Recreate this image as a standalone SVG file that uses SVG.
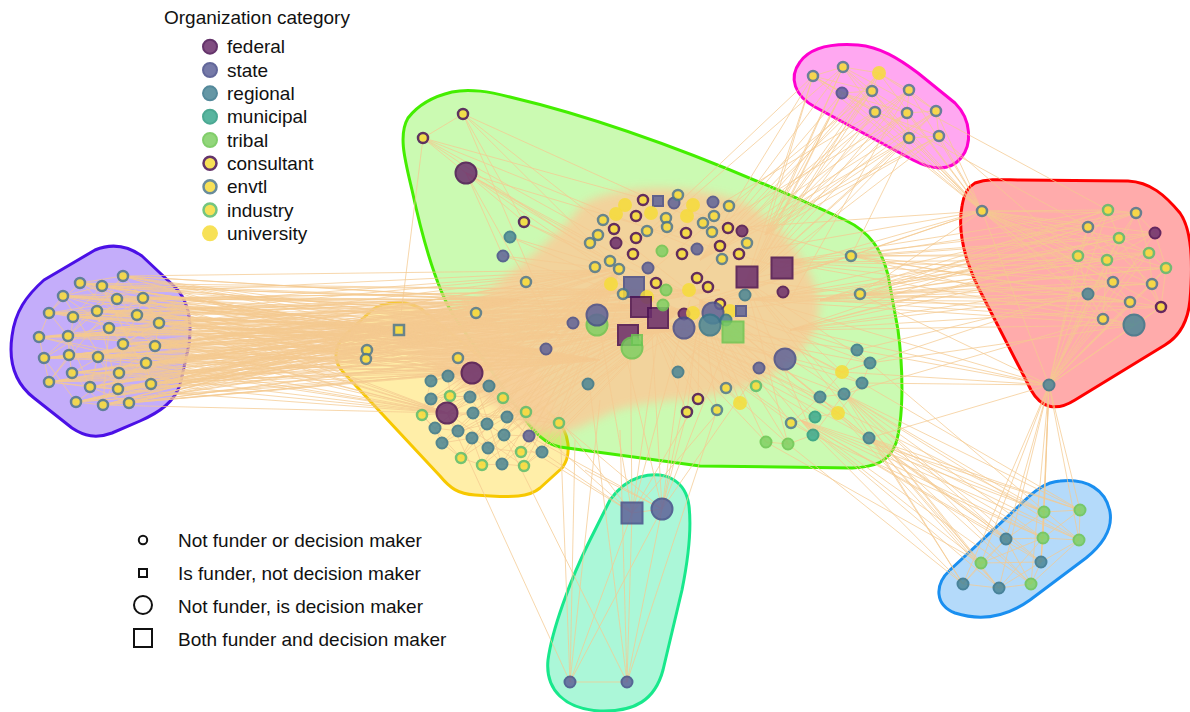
<svg xmlns="http://www.w3.org/2000/svg" width="1190" height="712" viewBox="0 0 1190 712">
<style>
text{font-family:"Liberation Sans",Arial,sans-serif;font-size:19px;fill:#111}
.hull{stroke-width:3;stroke-linejoin:round}
.e{fill:none;stroke:#f4c990;stroke-width:.75}
.core{fill:#f7cf9a;opacity:.9}
.n{opacity:.85;stroke-width:2}
.fed{fill:#6a2e6c;stroke:#4a1152}
.sta{fill:#5f6399;stroke:#474d89}
.reg{fill:#4b8696;stroke:#37758a}
.mun{fill:#3ca98f;stroke:#2c9a80}
.tri{fill:#80d064;stroke:#6cc552}
.con,.env,.ind,.uni{fill:#f6dc3a}
.con{stroke:#4a1152;stroke-width:2.5}
.env{stroke:#50788a;stroke-width:2.5}
.ind{stroke:#5cbc6a;stroke-width:2.5}
.uni{stroke:#f6dc3a}
.key{fill:none;stroke:#111;stroke-width:2}
</style>
<defs>
<filter id="soft" x="-20%" y="-20%" width="140%" height="140%"><feGaussianBlur stdDeviation="5"/></filter>
</defs>

<!-- community hulls -->
<g id="hulls">
<path class="hull" fill="#8a5cf5" fill-opacity=".5" stroke="#4b10e6" d="M95,250 C112,243 128,246 142,256 L176,288 C189,302 192,322 189,345 L180,385 C174,402 160,412 140,421 L112,433 C96,439 84,436 72,428 L34,398 C16,384 8,364 12,336 C15,312 26,296 44,280 Z"/>
<path class="hull" fill="#ffd11a" fill-opacity=".38" stroke="#f7c800" d="M372,310 C385,301 405,300 420,308 L555,418 C570,432 572,455 562,468 L540,488 C528,498 510,497 490,496 L475,495 C458,494 450,488 440,476 L343,372 C332,360 335,345 345,335 Z"/>
<path class="hull" fill="#52f000" fill-opacity=".3" stroke="#44ee00" d="M452,92 C470,88 490,92 510,97 Q650,130 845,220 C870,232 882,250 888,275 L898,330 C904,375 903,420 896,443 C889,462 875,467 852,468 L700,466 L560,447 C545,444 535,432 527,422 L455,318 C440,295 425,250 412,190 C405,160 398,135 408,118 C418,105 435,96 452,92 Z"/>
<path class="hull" fill="#ff1ad9" fill-opacity=".38" stroke="#ff00d0" d="M800,62 C810,48 830,43 858,45 C880,47 898,58 918,73 L955,103 C972,120 972,145 961,158 C950,171 934,171 913,160 L815,107 C795,96 788,78 800,62 Z"/>
<path class="hull" fill="#ff0000" fill-opacity=".33" stroke="#ff0000" d="M975,183 C990,178 1005,180 1020,180 L1128,181 C1150,182 1165,195 1180,213 C1192,230 1193,265 1190,300 C1188,322 1180,336 1165,345 L1075,400 C1056,412 1041,408 1031,390 L977,285 C963,255 958,228 962,206 C964,193 968,187 975,183 Z"/>
<path class="hull" fill="#1a90f0" fill-opacity=".33" stroke="#1a8ff0" d="M1060,481 C1087,478 1106,490 1110,512 C1113,530 1102,545 1086,558 L1030,600 C1005,618 980,621 955,613 C935,605 934,585 950,570 L1020,505 C1035,490 1046,482 1060,481 Z"/>
<path class="hull" fill="#00e88a" fill-opacity=".33" stroke="#18e88c" d="M640,477 C666,470 686,481 689,506 C692,532 688,560 682,590 L663,670 C655,700 635,712 600,711 C565,709 545,690 548,660 C552,630 570,580 590,540 L610,500 C620,486 630,480 640,477 Z"/>
</g>

<!-- collaboration ties -->
<g id="connectors">
<!-- the core ties are so numerous they merge into one tone -->
<path class="core" filter="url(#soft)" d="M468,305 C500,282 555,240 582,205 C612,183 700,183 745,203 C780,222 808,260 818,295 C825,335 798,365 752,385 C705,402 655,398 618,410 C585,423 565,440 540,432 C508,418 478,360 468,305 Z"/>
<path class="core" opacity=".55" filter="url(#soft)" d="M390,318 C420,310 460,305 480,312 L530,360 C545,380 560,410 548,425 C530,430 500,410 470,390 C440,372 410,352 390,340 Z"/>
<path class="e" d="M610,270L123,276L560,335M470,330L123,276L700,310M630,290L80,283L540,350M440,340L80,283L680,330M650,305L102,286L580,320M500,320L102,286L720,290M610,270L63,296L560,335M470,330L63,296L700,310M630,290L117,299L540,350M440,340L117,299L680,330M650,305L143,298L580,320M500,320L143,298L720,290M610,270L49,313L560,335M470,330L49,313L700,310M630,290L73,317L540,350M440,340L73,317L680,330M650,305L97,311L580,320M500,320L97,311L720,290M610,270L137,315L560,335M470,330L137,315L700,310M630,290L159,323L540,350M440,340L159,323L680,330M650,305L39,337L580,320M500,320L39,337L720,290M610,270L68,336L560,335M470,330L68,336L700,310M630,290L109,328L540,350M440,340L109,328L680,330M650,305L123,344L580,320M500,320L123,344L720,290M610,270L155,346L560,335M470,330L155,346L700,310M630,290L44,358L540,350M440,340L44,358L680,330M650,305L69,355L580,320M500,320L69,355L720,290M610,270L98,357L560,335M470,330L98,357L700,310M630,290L146,363L540,350M440,340L146,363L680,330M650,305L72,373L580,320M500,320L72,373L720,290M610,270L119,373L560,335M470,330L119,373L700,310M630,290L49,382L540,350M440,340L49,382L680,330M650,305L90,387L580,320M500,320L90,387L720,290M610,270L118,389L560,335M470,330L118,389L700,310M630,290L151,384L540,350M440,340L151,384L680,330M650,305L76,402L580,320M500,320L76,402L720,290M610,270L103,405L560,335M470,330L103,405L700,310M630,290L129,403L540,350M440,340L129,403L680,330"/>
<path class="e" d="M520,300L123,276L600,360M520,300L80,283L600,360M520,300L102,286L600,360M520,300L63,296L600,360M520,300L117,299L600,360M520,300L143,298L600,360M520,300L49,313L600,360M520,300L73,317L600,360M520,300L97,311L600,360M520,300L137,315L600,360M520,300L159,323L600,360M520,300L39,337L600,360M520,300L68,336L600,360M520,300L109,328L600,360M520,300L123,344L600,360M520,300L155,346L600,360M520,300L44,358L600,360M520,300L69,355L600,360M520,300L98,357L600,360M520,300L146,363L600,360M520,300L72,373L600,360M520,300L119,373L600,360M520,300L49,382L600,360M520,300L90,387L600,360M520,300L118,389L600,360M520,300L151,384L600,360M520,300L76,402L600,360M520,300L103,405L600,360M520,300L129,403L600,360M367,350L123,276M367,350L63,296M367,350L109,328M367,350L98,357M367,350L151,384M366,359L80,283M366,359L137,315M366,359L69,355M366,359L118,389M366,359L76,402"/>
<path class="e" d="M472,373L123,276L399,330M447,413L80,283L399,330M472,373L102,286L399,330M447,413L63,296L399,330M472,373L117,299L399,330M447,413L143,298L399,330M472,373L49,313L399,330M447,413L73,317L399,330M472,373L97,311L399,330M447,413L137,315L399,330M472,373L159,323L399,330M447,413L39,337L399,330M472,373L68,336L399,330M447,413L109,328L399,330M472,373L123,344L399,330M447,413L155,346L399,330M472,373L44,358L399,330M447,413L69,355L399,330M472,373L98,357L399,330M447,413L146,363L399,330M472,373L72,373L399,330M447,413L119,373L399,330M472,373L49,382L399,330M447,413L90,387L399,330M472,373L118,389L399,330M447,413L151,384L399,330M472,373L76,402L399,330M447,413L103,405L399,330M472,373L129,403L399,330"/>
<path class="e" d="M123,276L80,283L102,286L63,296L117,299L143,298L49,313L73,317L97,311L137,315L159,323L39,337L68,336L109,328L123,344L155,346L44,358L69,355L98,357L146,363L72,373L119,373L49,382L90,387L118,389L151,384L76,402L103,405L129,403M123,276L97,311L68,336L44,358L76,402M80,283L117,299L137,315L123,344L98,357L90,387L129,403M63,296L109,328L146,363L151,384M143,298L159,323L155,346L118,389L49,382L39,337L49,313L80,283M102,286L73,317L69,355L72,373L103,405M123,276L143,298L137,315M159,323L123,344L119,373L103,405M44,358L98,357L118,389M63,296L49,313L68,336L69,355L49,382M123,276L68,336L90,387M80,283L155,346L76,402M143,298L44,358M159,323L72,373M102,286L151,384M39,337L146,363M63,296L129,403M117,299L49,382M97,311L118,389M109,328L103,405"/>
<path class="e" d="M700,260L813,76L745,285M813,76L765,235M813,76L982,211M700,260L843,67L745,285M843,67L765,235M843,67L982,211M700,260L879,73L745,285M879,73L765,235M879,73L982,211M700,260L842,93L745,285M842,93L765,235M842,93L982,211M700,260L872,91L745,285M872,91L765,235M872,91L982,211M700,260L909,90L745,285M909,90L765,235M909,90L982,211M700,260L875,112L745,285M875,112L765,235M875,112L982,211M700,260L907,113L745,285M907,113L765,235M907,113L982,211M700,260L936,111L745,285M936,111L765,235M936,111L982,211M700,260L909,138L745,285M909,138L765,235M909,138L982,211M700,260L939,136L745,285M939,136L765,235M939,136L982,211M813,76L650,230M843,67L620,260M879,73L680,300M842,93L730,320M872,91L640,280M909,90L790,300M875,112L660,240M907,113L710,230M936,111L782,268M909,138L851,256M939,136L1078,256M813,76L1088,227M843,67L1108,210"/>
<path class="e" d="M813,76L843,67L879,73L872,91L842,93L813,76L875,112L909,90L936,111L939,136L909,138L875,112L842,93M843,67L872,91L907,113L936,111M879,73L909,90L907,113L909,138M813,76L872,91L909,138M843,67L875,112L939,136M842,93L907,113M879,73L936,111"/>
<path class="e" d="M780,262L1108,210L820,300M1108,210L860,295M1108,210L982,211M1108,210L1049,385M750,300L1136,213L790,330M1136,213L851,256M1136,213L982,211M1136,213L1049,385M780,262L1088,227L820,300M1088,227L860,295M1088,227L982,211M1088,227L1049,385M750,300L1155,233L790,330M1155,233L851,256M1155,233L982,211M1155,233L1049,385M780,262L1119,238L820,300M1119,238L860,295M1119,238L982,211M1119,238L1049,385M750,300L1078,256L790,330M1078,256L851,256M1078,256L982,211M1078,256L1049,385M780,262L1107,260L820,300M1107,260L860,295M1107,260L982,211M1107,260L1049,385M750,300L1149,253L790,330M1149,253L851,256M1149,253L982,211M1149,253L1049,385M780,262L1166,268L820,300M1166,268L860,295M1166,268L982,211M1166,268L1049,385M750,300L1113,282L790,330M1113,282L851,256M1113,282L982,211M1113,282L1049,385M780,262L1152,284L820,300M1152,284L860,295M1152,284L982,211M1152,284L1049,385M750,300L1088,294L790,330M1088,294L851,256M1088,294L982,211M1088,294L1049,385M780,262L1130,302L820,300M1130,302L860,295M1130,302L982,211M1130,302L1049,385M750,300L1161,307L790,330M1161,307L851,256M1161,307L982,211M1161,307L1049,385M780,262L1103,319L820,300M1103,319L860,295M1103,319L982,211M1103,319L1049,385M750,300L1134,325L790,330M1134,325L851,256M1134,325L982,211M1134,325L1049,385M760,250L982,211L720,300M982,211L851,256M700,230L982,211L782,268M982,211L860,294M982,211L1049,385M1049,385L800,330M1049,385L860,294M1049,385L842,372M1049,385L869,438M1049,385L760,300M1049,385L857,350"/>
<path class="e" d="M1108,210L1136,213L1155,233L1166,268L1161,307L1134,325L1103,319L1088,294L1078,256L1088,227L1108,210L1119,238L1149,253L1152,284L1130,302L1113,282L1107,260L1088,227M1136,213L1119,238L1107,260L1078,256M1149,253L1166,268L1152,284L1161,307M1113,282L1088,294L1130,302L1134,325M1108,210L1078,256L1113,282L1149,253L1136,213M1155,233L1107,260L1103,319M1088,227L1152,284M1119,238L1161,307"/>
<path class="e" d="M870,438L1044,512L844,394M1044,512L800,420M1044,512L1049,385M870,438L1080,510L844,394M1080,510L800,420M1080,510L1049,385M870,438L1006,539L844,394M1006,539L800,420M1006,539L1049,385M870,438L1043,538L844,394M1043,538L800,420M1043,538L1049,385M870,438L1079,540L844,394M1079,540L800,420M1079,540L1049,385M870,438L981,563L844,394M981,563L800,420M981,563L1049,385M870,438L1041,562L844,394M1041,562L800,420M1041,562L1049,385M870,438L963,584L844,394M963,584L800,420M963,584L1049,385M870,438L999,588L844,394M999,588L800,420M999,588L1049,385M870,438L1031,584L844,394M1031,584L800,420M1031,584L1049,385M1044,512L760,370M1006,539L720,330M963,584L788,444M981,563L766,442M1043,538L813,435M999,588L838,413M1080,510L862,383M1079,540L870,363"/>
<path class="e" d="M1044,512L1080,510L1079,540L1041,562L1031,584L999,588L963,584L981,563L1006,539L1044,512L1043,538L1079,540M1006,539L1043,538L1041,562L999,588M981,563L1043,538L1080,510M963,584L1006,539L1031,584L1079,540M981,563L1041,562L1044,512M999,588L1043,538"/>
<path class="e" d="M600,330L632,513L630,300M632,513L660,320M690,300L632,513L560,420M632,513L720,410M632,513L662,509M650,300L662,509L700,320M662,509L740,310M620,330L662,509L680,372M662,509L760,368M662,509L585,470M575,440L570,682L632,513M570,682L662,509M570,682L627,682L632,513M627,682L662,509M560,423L570,682M627,682L620,430M627,682L590,390M600,400L570,682M632,513L530,450M662,509L560,423M472,373L632,513M447,413L570,682M504,435L627,682M529,436L662,509M542,452L632,513M687,412L662,509M698,399L632,513M717,410L627,682"/>
<path class="e" d="M620,270L399,330L680,310M620,270L367,350L680,310M620,270L366,359L680,310M620,270L458,358L680,310M620,270L472,373L680,310M620,270L431,381L680,310M620,270L448,376L680,310M620,270L489,386L680,310M620,270L450,396L680,310M620,270L470,397L680,310M620,270L503,398L680,310M620,270L431,399L680,310M620,270L422,415L680,310M620,270L447,413L680,310M620,270L473,413L680,310M620,270L507,417L680,310M620,270L526,412L680,310M620,270L559,423L680,310M620,270L435,428L680,310M620,270L458,431L680,310M620,270L487,424L680,310M620,270L472,438L680,310M620,270L504,435L680,310M620,270L529,436L680,310M620,270L442,443L680,310M620,270L488,448L680,310M620,270L521,452L680,310M620,270L542,452L680,310M620,270L461,458L680,310M620,270L482,465L680,310M620,270L502,464L680,310M620,270L524,466L680,310M367,350L560,335M366,359L600,330M399,330L470,330"/>
<path class="e" d="M472,373L431,381L448,376L489,386L470,397L450,396L431,399L422,415L447,413L473,413L507,417L526,412L559,423L529,436L504,435L487,424L458,431L435,428L442,443L472,438L488,448L521,452L542,452L524,466L502,464L482,465L461,458L442,443M472,373L503,398L526,412M447,413L458,431L472,438M431,381L422,415L435,428M448,376L450,396L470,397L487,424L504,435L521,452M473,413L488,448L502,464M507,417L529,436L542,452M461,458L472,438L482,465M472,373L422,415L461,458M472,373L542,452M447,413L524,466M447,413L559,423M472,373L502,464M447,413L489,386"/>
<path class="e" d="M620,270L463,114L700,300M463,114L560,340M463,114L423,138L466,173M620,270L423,138L700,250M423,138L399,330M423,138L598,235M610,260L466,173L650,300M466,173L560,340M700,300L466,173L590,243M466,173L524,222M466,173L503,256M463,114L524,222M620,270L524,222L700,300M620,270L510,237L680,310M620,270L503,256L680,310M620,270L526,282L680,310M600,300L546,349L690,310M620,300L588,384L700,320M640,300L678,372L720,320M423,138L851,256M463,114L747,243M466,173L782,268M476,313L620,270M476,313L700,310M476,313L399,330"/>
<path class="e" d="M700,300L759,368L650,320M700,300L726,388L650,320M700,300L756,386L650,320M700,300L698,399L650,320M700,300L687,412L650,320M700,300L717,410L650,320M700,300L740,403L650,320M700,300L842,372L650,320M700,300L857,350L650,320M700,300L870,363L650,320M700,300L862,383L650,320M700,300L844,394L650,320M700,300L820,397L650,320M700,300L838,413L650,320M700,300L815,417L650,320M700,300L791,423L650,320M700,300L813,435L650,320M700,300L766,442L650,320M700,300L788,444L650,320M700,300L869,438L650,320M700,300L851,256L650,320M700,300L860,294L650,320M700,300L785,359L650,320M745,280L842,372M745,280L870,363M745,280L844,394M745,280L813,435M745,280L869,438M745,280L788,444M745,280L851,256M745,280L860,294M857,350L870,363L862,383L844,394L820,397L838,413L815,417L791,423L813,435L788,444L766,442M842,372L870,363M869,438L838,413L862,383M844,394L813,435M857,350L842,372L820,397L791,423M857,350L1088,294M870,363L1134,325M862,383L1049,385M844,394L1103,319M842,372L1113,282"/>
</g>

<!-- legend: organization category -->
<g id="legend-category">
<text x="164" y="24">Organization category</text>
<circle class="n fed" cx="210" cy="46.7" r="7"/><text x="227" y="53.4">federal</text>
<circle class="n sta" cx="210" cy="70" r="7"/><text x="227" y="76.7">state</text>
<circle class="n reg" cx="210" cy="93.3" r="7"/><text x="227" y="100">regional</text>
<circle class="n mun" cx="210" cy="116.7" r="7"/><text x="227" y="123.4">municipal</text>
<circle class="n tri" cx="210" cy="140" r="7"/><text x="227" y="146.7">tribal</text>
<circle class="n con" cx="210" cy="163.3" r="6.5"/><text x="227" y="170">consultant</text>
<circle class="n env" cx="210" cy="186.7" r="6.5"/><text x="227" y="193.4">envtl</text>
<circle class="n ind" cx="210" cy="210" r="6.5"/><text x="227" y="216.7">industry</text>
<circle class="n uni" cx="210" cy="233.3" r="7"/><text x="227" y="240">university</text>
</g>

<!-- legend: role shapes -->
<g id="legend-role">
<circle class="key" cx="143" cy="540" r="4.2"/><text x="178" y="547">Not funder or decision maker</text>
<rect class="key" x="139" y="569" width="8" height="8"/><text x="178" y="580">Is funder, not decision maker</text>
<circle class="key" cx="143" cy="605" r="9"/><text x="178" y="613">Not funder, is decision maker</text>
<rect class="key" x="134" y="629" width="18" height="18"/><text x="178" y="646">Both funder and decision maker</text>
</g>

<!-- cluster: environmental groups (left) -->
<g id="cluster-purple">
<g id="p01"><circle class="n env" cx="123" cy="276" r="5"/></g>
<g id="p02"><circle class="n env" cx="80" cy="283" r="5"/></g>
<g id="p03"><circle class="n env" cx="102" cy="286" r="5"/></g>
<g id="p04"><circle class="n env" cx="63" cy="296" r="5"/></g>
<g id="p05"><circle class="n env" cx="117" cy="299" r="5"/></g>
<g id="p06"><circle class="n env" cx="143" cy="298" r="5"/></g>
<g id="p07"><circle class="n env" cx="49" cy="313" r="5"/></g>
<g id="p08"><circle class="n env" cx="73" cy="317" r="5"/></g>
<g id="p09"><circle class="n env" cx="97" cy="311" r="5"/></g>
<g id="p10"><circle class="n env" cx="137" cy="315" r="5"/></g>
<g id="p11"><circle class="n env" cx="159" cy="323" r="5"/></g>
<g id="p12"><circle class="n env" cx="39" cy="337" r="5"/></g>
<g id="p13"><circle class="n env" cx="68" cy="336" r="5"/></g>
<g id="p14"><circle class="n env" cx="109" cy="328" r="5"/></g>
<g id="p15"><circle class="n env" cx="123" cy="344" r="5"/></g>
<g id="p16"><circle class="n env" cx="155" cy="346" r="5"/></g>
<g id="p17"><circle class="n env" cx="44" cy="358" r="5"/></g>
<g id="p18"><circle class="n env" cx="69" cy="355" r="5"/></g>
<g id="p19"><circle class="n env" cx="98" cy="357" r="5"/></g>
<g id="p20"><circle class="n env" cx="146" cy="363" r="5"/></g>
<g id="p21"><circle class="n env" cx="72" cy="373" r="5"/></g>
<g id="p22"><circle class="n env" cx="119" cy="373" r="5"/></g>
<g id="p23"><circle class="n env" cx="49" cy="382" r="5"/></g>
<g id="p24"><circle class="n env" cx="90" cy="387" r="5"/></g>
<g id="p25"><circle class="n env" cx="118" cy="389" r="5"/></g>
<g id="p26"><circle class="n env" cx="151" cy="384" r="5"/></g>
<g id="p27"><circle class="n env" cx="76" cy="402" r="5"/></g>
<g id="p28"><circle class="n env" cx="103" cy="405" r="5"/></g>
<g id="p29"><circle class="n env" cx="129" cy="403" r="5"/></g>
</g>

<!-- cluster: regional agencies (yellow hull) -->
<g id="cluster-yellow">
<g id="y01"><rect class="n env" x="394" y="325" width="10" height="10"/></g>
<g id="y02"><circle class="n env" cx="367" cy="350" r="5"/></g>
<g id="y03"><circle class="n env" cx="366" cy="359" r="5"/></g>
<g id="y05"><circle class="n env" cx="458" cy="358" r="5"/></g>
<g id="y06"><circle class="n fed" cx="472" cy="373" r="10.5"/></g>
<g id="y07"><circle class="n reg" cx="431" cy="381" r="5.5"/></g>
<g id="y08"><circle class="n reg" cx="448" cy="376" r="5.5"/></g>
<g id="y09"><circle class="n reg" cx="489" cy="386" r="5.5"/></g>
<g id="y10"><circle class="n ind" cx="450" cy="396" r="5"/></g>
<g id="y11"><circle class="n reg" cx="470" cy="397" r="5.5"/></g>
<g id="y12"><circle class="n ind" cx="503" cy="398" r="5"/></g>
<g id="y13"><circle class="n reg" cx="431" cy="399" r="5.5"/></g>
<g id="y14"><circle class="n ind" cx="422" cy="415" r="5"/></g>
<g id="y15"><circle class="n fed" cx="447" cy="413" r="10.5"/></g>
<g id="y16"><circle class="n reg" cx="473" cy="413" r="5.5"/></g>
<g id="y17"><circle class="n reg" cx="507" cy="417" r="5.5"/></g>
<g id="y18"><circle class="n ind" cx="526" cy="412" r="5"/></g>
<g id="y19"><circle class="n ind" cx="559" cy="423" r="5"/></g>
<g id="y20"><circle class="n reg" cx="435" cy="428" r="5.5"/></g>
<g id="y21"><circle class="n reg" cx="458" cy="431" r="5.5"/></g>
<g id="y22"><circle class="n reg" cx="487" cy="424" r="5.5"/></g>
<g id="y23"><circle class="n reg" cx="472" cy="438" r="5.5"/></g>
<g id="y24"><circle class="n reg" cx="504" cy="435" r="5.5"/></g>
<g id="y25"><circle class="n sta" cx="529" cy="436" r="5.5"/></g>
<g id="y26"><circle class="n reg" cx="442" cy="443" r="5.5"/></g>
<g id="y27"><circle class="n reg" cx="488" cy="448" r="5.5"/></g>
<g id="y28"><circle class="n ind" cx="521" cy="452" r="5"/></g>
<g id="y29"><circle class="n reg" cx="542" cy="452" r="5.5"/></g>
<g id="y30"><circle class="n ind" cx="461" cy="458" r="5"/></g>
<g id="y31"><circle class="n ind" cx="482" cy="465" r="5"/></g>
<g id="y32"><circle class="n reg" cx="502" cy="464" r="5.5"/></g>
<g id="y33"><circle class="n ind" cx="524" cy="466" r="5"/></g>
</g>

<!-- cluster: core network (green hull) -->
<g id="cluster-green">
<g id="g01"><circle class="n con" cx="463" cy="114" r="5"/></g>
<g id="g02"><circle class="n con" cx="423" cy="138" r="5"/></g>
<g id="g03"><circle class="n fed" cx="466" cy="173" r="10.5"/></g>
<g id="g04"><circle class="n con" cx="524" cy="222" r="5"/></g>
<g id="g05"><circle class="n reg" cx="510" cy="237" r="5.5"/></g>
<g id="g06"><circle class="n sta" cx="503" cy="256" r="5.5"/></g>
<g id="g07"><circle class="n env" cx="526" cy="282" r="5"/></g>
<g id="g08"><circle class="n env" cx="476" cy="313" r="5"/></g>
<g id="g09"><circle class="n sta" cx="546" cy="349" r="5.5"/></g>
<g id="g10"><circle class="n reg" cx="588" cy="384" r="5.5"/></g>
<g id="g11"><circle class="n reg" cx="678" cy="372" r="5.5"/></g>
<g id="g12"><circle class="n env" cx="851" cy="256" r="5"/></g>
<g id="g13"><circle class="n env" cx="860" cy="294" r="5"/></g>
<g id="g14"><circle class="n sta" cx="759" cy="368" r="5.5"/></g>
<g id="g15"><circle class="n env" cx="726" cy="388" r="5"/></g>
<g id="g16"><circle class="n ind" cx="756" cy="386" r="5"/></g>
<g id="g17"><circle class="n con" cx="698" cy="399" r="5"/></g>
<g id="g18"><circle class="n con" cx="687" cy="412" r="5"/></g>
<g id="g19"><circle class="n env" cx="717" cy="410" r="5"/></g>
<g id="g20"><circle class="n uni" cx="740" cy="403" r="6"/></g>
<g id="g21"><circle class="n uni" cx="842" cy="372" r="6"/></g>
<g id="g22"><circle class="n reg" cx="857" cy="350" r="5.5"/></g>
<g id="g23"><circle class="n reg" cx="870" cy="363" r="5.5"/></g>
<g id="g24"><circle class="n reg" cx="862" cy="383" r="5.5"/></g>
<g id="g25"><circle class="n reg" cx="844" cy="394" r="5.5"/></g>
<g id="g26"><circle class="n reg" cx="820" cy="397" r="5.5"/></g>
<g id="g27"><circle class="n uni" cx="838" cy="413" r="6"/></g>
<g id="g28"><circle class="n mun" cx="815" cy="417" r="5.5"/></g>
<g id="g29"><circle class="n env" cx="791" cy="423" r="5"/></g>
<g id="g30"><circle class="n mun" cx="813" cy="435" r="5.5"/></g>
<g id="g31"><circle class="n tri" cx="766" cy="442" r="5.5"/></g>
<g id="g32"><circle class="n tri" cx="788" cy="444" r="5.5"/></g>
<g id="g33"><circle class="n reg" cx="869" cy="438" r="5.5"/></g>
<g id="g34"><circle class="n sta" cx="785" cy="359" r="10.5"/></g>
</g>

<!-- dense core of the green cluster -->
<g id="cluster-core">
<g id="k01"><circle class="n con" cx="643" cy="200" r="5"/></g>
<g id="k02"><rect class="n sta" x="653" y="196" width="10" height="10"/></g>
<g id="k03"><circle class="n sta" cx="674" cy="203" r="5.5"/></g>
<g id="k04"><circle class="n env" cx="678" cy="195" r="5"/></g>
<g id="k05"><circle class="n uni" cx="625" cy="205" r="6"/></g>
<g id="k06"><circle class="n uni" cx="693" cy="205" r="6"/></g>
<g id="k07"><circle class="n sta" cx="713" cy="202" r="5.5"/></g>
<g id="k08"><circle class="n env" cx="729" cy="206" r="5"/></g>
<g id="k09"><circle class="n uni" cx="616" cy="214" r="6"/></g>
<g id="k10"><circle class="n con" cx="636" cy="216" r="5"/></g>
<g id="k11"><circle class="n uni" cx="651" cy="213" r="6"/></g>
<g id="k12"><circle class="n env" cx="666" cy="218" r="5"/></g>
<g id="k13"><circle class="n uni" cx="687" cy="216" r="6"/></g>
<g id="k14"><circle class="n env" cx="714" cy="216" r="5"/></g>
<g id="k15"><circle class="n env" cx="603" cy="220" r="5"/></g>
<g id="k16"><circle class="n env" cx="703" cy="223" r="5"/></g>
<g id="k17"><circle class="n env" cx="667" cy="227" r="5"/></g>
<g id="k18"><circle class="n con" cx="614" cy="229" r="5"/></g>
<g id="k19"><circle class="n env" cx="647" cy="231" r="5"/></g>
<g id="k20"><circle class="n con" cx="686" cy="233" r="5"/></g>
<g id="k21"><circle class="n env" cx="712" cy="232" r="5"/></g>
<g id="k22"><circle class="n con" cx="728" cy="228" r="5"/></g>
<g id="k23"><circle class="n fed" cx="742" cy="231" r="5.5"/></g>
<g id="k24"><circle class="n env" cx="598" cy="235" r="5"/></g>
<g id="k25"><circle class="n env" cx="590" cy="243" r="5"/></g>
<g id="k26"><circle class="n fed" cx="616" cy="243" r="5.5"/></g>
<g id="k27"><circle class="n con" cx="636" cy="238" r="5"/></g>
<g id="k28"><circle class="n env" cx="747" cy="243" r="5"/></g>
<g id="k29"><circle class="n con" cx="720" cy="246" r="5"/></g>
<g id="k30"><circle class="n con" cx="633" cy="254" r="5"/></g>
<g id="k31"><circle class="n con" cx="682" cy="254" r="5"/></g>
<g id="k32"><circle class="n tri" cx="662" cy="251" r="5.5"/></g>
<g id="k33"><circle class="n sta" cx="697" cy="249" r="5.5"/></g>
<g id="k34"><circle class="n con" cx="739" cy="254" r="5"/></g>
<g id="k35"><circle class="n env" cx="722" cy="259" r="5"/></g>
<g id="k36"><circle class="n env" cx="610" cy="261" r="5"/></g>
<g id="k37"><circle class="n env" cx="595" cy="267" r="5"/></g>
<g id="k38"><circle class="n env" cx="619" cy="269" r="5"/></g>
<g id="k39"><circle class="n sta" cx="648" cy="268" r="5.5"/></g>
<g id="k40"><circle class="n uni" cx="611" cy="284" r="6"/></g>
<g id="k41"><rect class="n sta" x="624" y="277" width="20" height="20"/></g>
<g id="k42"><circle class="n con" cx="656" cy="283" r="5"/></g>
<g id="k43"><circle class="n tri" cx="666" cy="290" r="5.5"/></g>
<g id="k44"><circle class="n con" cx="697" cy="278" r="5"/></g>
<g id="k45"><circle class="n con" cx="708" cy="287" r="5"/></g>
<g id="k46"><circle class="n uni" cx="689" cy="290" r="6"/></g>
<g id="k47"><rect class="n fed" x="736.5" y="266.5" width="21" height="21"/></g>
<g id="k48"><rect class="n fed" x="771.5" y="257.5" width="21" height="21"/></g>
<g id="k49"><circle class="n fed" cx="783" cy="292" r="5.5"/></g>
<g id="k50"><circle class="n reg" cx="745" cy="295" r="5.5"/></g>
<g id="k51"><circle class="n env" cx="623" cy="294" r="5"/></g>
<g id="k52"><circle class="n uni" cx="647" cy="297" r="6"/></g>
<g id="k65"><circle class="n tri" cx="597" cy="325" r="10.5"/></g>
<g id="k66"><circle class="n sta" cx="597" cy="315" r="10.5"/></g>
<g id="k67"><circle class="n sta" cx="573" cy="323" r="5.5"/></g>
<g id="k53"><rect class="n fed" x="631" y="297" width="20" height="20"/></g>
<g id="k54"><rect class="n fed" x="648" y="308" width="20" height="20"/></g>
<g id="k55"><circle class="n tri" cx="663" cy="305" r="5.5"/></g>
<g id="k56"><circle class="n con" cx="720" cy="304" r="5"/></g>
<g id="k57"><circle class="n uni" cx="730" cy="311" r="6"/></g>
<g id="k58"><rect class="n sta" x="736" y="306" width="10" height="10"/></g>
<g id="k59"><circle class="n fed" cx="684" cy="314" r="5.5"/></g>
<g id="k60"><circle class="n uni" cx="693" cy="313" r="6"/></g>
<g id="k61"><circle class="n sta" cx="713" cy="313" r="10.5"/></g>
<g id="k62"><circle class="n reg" cx="710" cy="325" r="10.5"/></g>
<g id="k63"><circle class="n reg" cx="726" cy="320" r="5.5"/></g>
<g id="k64"><rect class="n tri" x="722.5" y="321.5" width="21" height="21"/></g>
<g id="k68"><rect class="n fed" x="618" y="325" width="20" height="20"/></g>
<g id="k70"><circle class="n tri" cx="632" cy="348" r="10.5"/></g>
<g id="k69"><rect class="n tri" x="632" y="335" width="10" height="10"/></g>
<g id="k71"><circle class="n sta" cx="684" cy="328" r="10.5"/></g>
</g>

<!-- cluster: magenta hull -->
<g id="cluster-magenta">
<g id="m01"><circle class="n env" cx="813" cy="76" r="5"/></g>
<g id="m02"><circle class="n env" cx="843" cy="67" r="5"/></g>
<g id="m03"><circle class="n uni" cx="879" cy="73" r="6"/></g>
<g id="m04"><circle class="n sta" cx="842" cy="93" r="5.5"/></g>
<g id="m05"><circle class="n env" cx="872" cy="91" r="5"/></g>
<g id="m06"><circle class="n env" cx="909" cy="90" r="5"/></g>
<g id="m07"><circle class="n env" cx="875" cy="112" r="5"/></g>
<g id="m08"><circle class="n env" cx="907" cy="113" r="5"/></g>
<g id="m09"><circle class="n env" cx="936" cy="111" r="5"/></g>
<g id="m10"><circle class="n env" cx="909" cy="138" r="5"/></g>
<g id="m11"><circle class="n env" cx="939" cy="136" r="5"/></g>
</g>

<!-- cluster: red hull -->
<g id="cluster-red">
<g id="r01"><circle class="n env" cx="982" cy="211" r="5"/></g>
<g id="r02"><circle class="n ind" cx="1108" cy="210" r="5"/></g>
<g id="r03"><circle class="n env" cx="1136" cy="213" r="5"/></g>
<g id="r04"><circle class="n env" cx="1088" cy="227" r="5"/></g>
<g id="r05"><circle class="n fed" cx="1155" cy="233" r="5.5"/></g>
<g id="r06"><circle class="n ind" cx="1119" cy="238" r="5"/></g>
<g id="r07"><circle class="n ind" cx="1078" cy="256" r="5"/></g>
<g id="r08"><circle class="n ind" cx="1107" cy="260" r="5"/></g>
<g id="r09"><circle class="n ind" cx="1149" cy="253" r="5"/></g>
<g id="r10"><circle class="n ind" cx="1166" cy="268" r="5"/></g>
<g id="r11"><circle class="n env" cx="1113" cy="282" r="5"/></g>
<g id="r12"><circle class="n env" cx="1152" cy="284" r="5"/></g>
<g id="r13"><circle class="n reg" cx="1088" cy="294" r="5.5"/></g>
<g id="r14"><circle class="n env" cx="1130" cy="302" r="5"/></g>
<g id="r15"><circle class="n con" cx="1161" cy="307" r="5"/></g>
<g id="r16"><circle class="n env" cx="1103" cy="319" r="5"/></g>
<g id="r17"><circle class="n reg" cx="1134" cy="325" r="10.5"/></g>
<g id="r18"><circle class="n reg" cx="1049" cy="385" r="5.5"/></g>
</g>

<!-- cluster: blue hull -->
<g id="cluster-blue">
<g id="b01"><circle class="n tri" cx="1044" cy="512" r="5.5"/></g>
<g id="b02"><circle class="n tri" cx="1080" cy="510" r="5.5"/></g>
<g id="b03"><circle class="n reg" cx="1006" cy="539" r="5.5"/></g>
<g id="b04"><circle class="n tri" cx="1043" cy="538" r="5.5"/></g>
<g id="b05"><circle class="n tri" cx="1079" cy="540" r="5.5"/></g>
<g id="b06"><circle class="n tri" cx="981" cy="563" r="5.5"/></g>
<g id="b07"><circle class="n reg" cx="1041" cy="562" r="5.5"/></g>
<g id="b08"><circle class="n reg" cx="963" cy="584" r="5.5"/></g>
<g id="b09"><circle class="n reg" cx="999" cy="588" r="5.5"/></g>
<g id="b10"><circle class="n tri" cx="1031" cy="584" r="5.5"/></g>
</g>

<!-- cluster: teal hull -->
<g id="cluster-teal">
<g id="t01"><rect class="n sta" x="621.5" y="502.5" width="21" height="21"/></g>
<g id="t02"><circle class="n sta" cx="662" cy="509" r="10.5"/></g>
<g id="t03"><circle class="n sta" cx="570" cy="682" r="5.5"/></g>
<g id="t04"><circle class="n sta" cx="627" cy="682" r="5.5"/></g>
</g>
</svg>
